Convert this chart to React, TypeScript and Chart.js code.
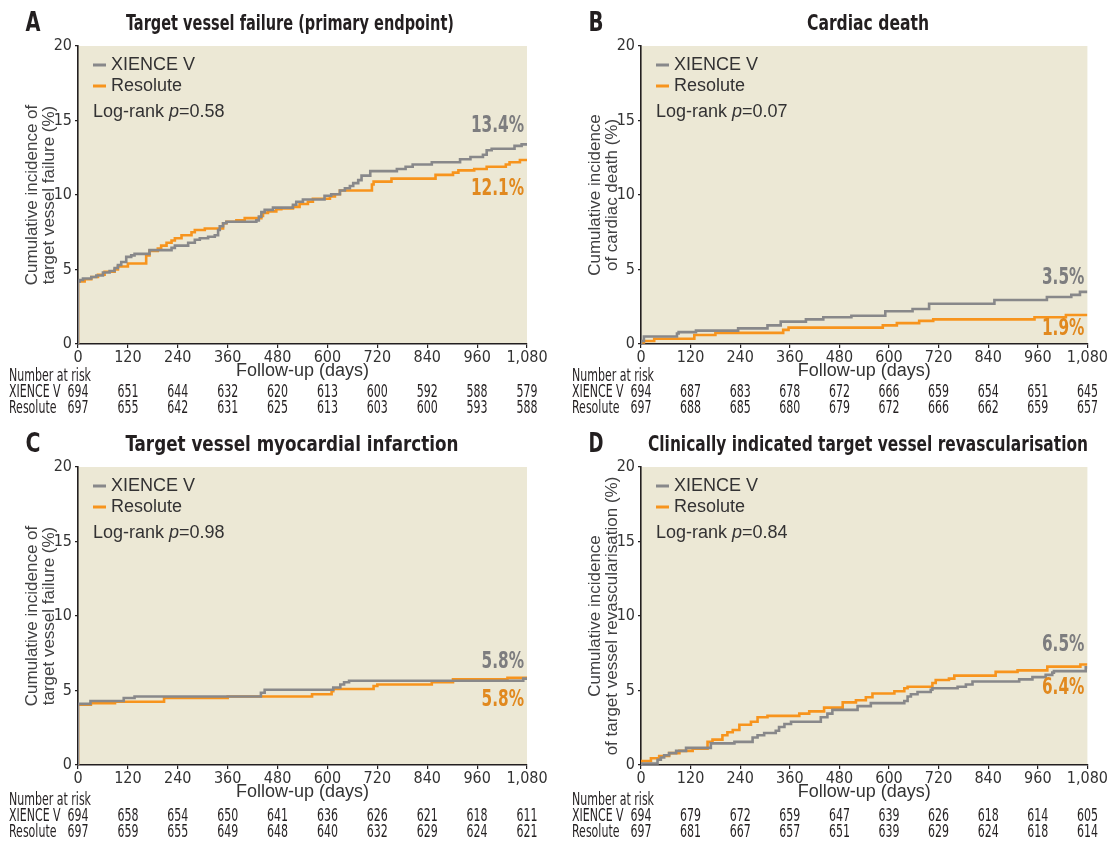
import React, { useEffect, useRef } from "react";
import { Chart, registerables } from "chart.js";

Chart.register(...registerables);

// ---------- shared axis data ----------
const xTicks = [0, 120, 240, 360, 480, 600, 720, 840, 960, 1080];
const xTickLabels = ["0", "120", "240", "360", "480", "600", "720", "840", "960", "1,080"];
const yTicks = [0, 5, 10, 15, 20];
const seriesNames = ["XIENCE V", "Resolute"];

// ---------- Panel A: Target vessel failure ----------
const xienceA_days = [0, 0, 4, 12, 32, 44, 60, 76, 88, 96, 104, 116, 128, 136, 172, 225, 233, 265, 281, 293, 313, 329, 337, 341, 349, 357, 429, 435, 441, 449, 469, 517, 525, 541, 593, 609, 630, 642, 654, 662, 674, 682, 703, 767, 788, 805, 851, 919, 944, 974, 983, 995, 1050, 1067, 1080];
const xienceA_vals = [0, 4.2, 4.3, 4.4, 4.5, 4.6, 4.8, 4.9, 5.1, 5.3, 5.5, 5.85, 5.95, 6.05, 6.3, 6.45, 6.6, 6.8, 7.0, 7.1, 7.2, 7.3, 7.65, 7.9, 8.1, 8.2, 8.3, 8.55, 8.85, 9.0, 9.15, 9.35, 9.55, 9.7, 9.95, 10.05, 10.3, 10.45, 10.6, 10.8, 11.0, 11.3, 11.6, 11.75, 11.9, 12.05, 12.2, 12.4, 12.55, 12.7, 13.0, 13.1, 13.3, 13.4, 13.4];
const resoluteA_days = [0, 0, 16, 32, 48, 64, 88, 96, 120, 164, 172, 192, 200, 213, 225, 233, 249, 273, 281, 305, 349, 357, 381, 401, 441, 445, 457, 477, 489, 517, 533, 553, 565, 606, 618, 630, 707, 711, 754, 860, 902, 915, 953, 983, 1029, 1038, 1063, 1080];
const resoluteA_vals = [0, 4.2, 4.35, 4.5, 4.65, 4.85, 5.0, 5.2, 5.4, 5.95, 6.25, 6.4, 6.6, 6.8, 6.95, 7.1, 7.3, 7.5, 7.65, 7.75, 8.1, 8.2, 8.3, 8.45, 8.6, 8.8, 8.9, 9.05, 9.1, 9.2, 9.4, 9.55, 9.75, 9.9, 10.05, 10.3, 10.7, 10.9, 11.1, 11.35, 11.5, 11.65, 11.75, 11.9, 12.05, 12.2, 12.35, 12.35];
const riskA_xience = [694, 651, 644, 632, 620, 613, 600, 592, 588, 579];
const riskA_resolute = [697, 655, 642, 631, 625, 613, 603, 600, 593, 588];

// ---------- Panel B: Cardiac death ----------
const xienceB_days = [0, 0, 7, 87, 91, 133, 235, 306, 338, 399, 441, 509, 591, 657, 697, 855, 982, 1041, 1062, 1080];
const xienceB_vals = [0, 0.2, 0.5, 0.7, 0.8, 0.9, 1.05, 1.25, 1.5, 1.65, 1.8, 1.9, 2.2, 2.35, 2.7, 2.95, 3.15, 3.3, 3.5, 3.5];
const resoluteB_days = [0, 0, 7, 32, 129, 180, 344, 357, 585, 619, 673, 707, 952, 1028, 1080];
const resoluteB_vals = [0, 0.1, 0.2, 0.35, 0.6, 0.75, 0.95, 1.1, 1.25, 1.4, 1.55, 1.65, 1.8, 1.95, 1.95];
const riskB_xience = [694, 687, 683, 678, 672, 666, 659, 654, 651, 645];
const riskB_resolute = [697, 688, 685, 680, 679, 672, 666, 662, 659, 657];

// ---------- Panel C: Target vessel MI ----------
const xienceC_days = [0, 0, 30, 110, 136, 440, 449, 614, 631, 640, 652, 1071, 1080];
const xienceC_vals = [0, 4.1, 4.3, 4.5, 4.6, 4.85, 5.05, 5.2, 5.4, 5.55, 5.65, 5.8, 5.8];
const resoluteC_days = [0, 0, 31, 89, 207, 360, 563, 610, 614, 711, 720, 851, 902, 1033, 1080];
const resoluteC_vals = [0, 4.05, 4.15, 4.25, 4.5, 4.6, 4.75, 4.95, 5.1, 5.3, 5.4, 5.55, 5.75, 5.85, 5.85];
const riskC_xience = [694, 658, 654, 650, 641, 636, 626, 621, 618, 611];
const riskC_resolute = [697, 659, 655, 649, 648, 640, 632, 629, 624, 621];

// ---------- Panel D: CI-TVR ----------
const xienceD_days = [0, 0, 40, 48, 56, 68, 85, 109, 169, 226, 270, 282, 298, 326, 334, 347, 363, 435, 451, 463, 524, 556, 637, 645, 653, 669, 701, 705, 766, 786, 802, 915, 947, 979, 995, 999, 1076, 1080];
const xienceD_vals = [0, 0.1, 0.35, 0.5, 0.65, 0.8, 0.95, 1.15, 1.45, 1.55, 1.85, 2.0, 2.15, 2.3, 2.55, 2.75, 2.9, 3.2, 3.45, 3.7, 3.95, 4.15, 4.3, 4.6, 4.75, 4.9, 5.05, 5.15, 5.25, 5.4, 5.6, 5.75, 5.9, 6.05, 6.2, 6.3, 6.55, 6.55];
const resoluteD_days = [0, 0, 24, 44, 68, 93, 125, 161, 173, 197, 209, 222, 238, 266, 282, 306, 383, 407, 443, 488, 520, 544, 560, 613, 637, 645, 705, 713, 745, 758, 858, 911, 983, 1063, 1080];
const resoluteD_vals = [0, 0.27, 0.45, 0.6, 0.8, 0.95, 1.1, 1.55, 1.7, 2.0, 2.2, 2.35, 2.7, 2.9, 3.2, 3.3, 3.45, 3.6, 3.85, 4.2, 4.35, 4.55, 4.8, 4.95, 5.15, 5.25, 5.5, 5.7, 5.8, 6.0, 6.25, 6.35, 6.6, 6.75, 6.75];
const riskD_xience = [694, 679, 672, 659, 647, 639, 626, 618, 614, 605];
const riskD_resolute = [697, 681, 667, 657, 651, 639, 629, 624, 618, 614];

// ---------- styling ----------
const GREY = "#88888A";
const ORANGE = "#F7941D";
const GREY_LABEL = "#7D7D7F";
const ORANGE_LABEL = "#E1891F";
const BG = "#ECE8D5";
const INK = "#231F20";
const NARROW = '"Liberation Sans Narrow", "DejaVu Sans Condensed", "Liberation Sans", sans-serif';
const SANS = '"Liberation Sans", Arial, sans-serif';
const SQUEEZE = 0.74;

type PanelDef = {
  letter: string;
  title: string;
  titleX: number;
  titleW: number;
  yTitle: string[];
  xDays: number[];
  xVals: number[];
  rDays: number[];
  rVals: number[];
  riskX: number[];
  riskR: number[];
  pValue: string;
  greyLabel: string;
  orangeLabel: string;
  greyLabelY: number;
  orangeLabelY: number;
  riskDy: number;
  left: number;
  top: number;
  width: number;
  height: number;
  plotRight: number;
};

const panels: PanelDef[] = [
  {
    letter: "A", title: "Target vessel failure (primary endpoint)", titleX: 290, titleW: 328,
    yTitle: ["Cumulative incidence of", "target vessel failure (%)"],
    xDays: xienceA_days, xVals: xienceA_vals, rDays: resoluteA_days, rVals: resoluteA_vals,
    riskX: riskA_xience, riskR: riskA_resolute, pValue: "0.58",
    greyLabel: "13.4%", orangeLabel: "12.1%", greyLabelY: 126, orangeLabelY: 189, riskDy: 0,
    left: 0, top: 0, width: 555, height: 421, plotRight: 527,
  },
  {
    letter: "B", title: "Cardiac death", titleX: 305, titleW: 122,
    yTitle: ["Cumulative incidence", "of cardiac death (%)"],
    xDays: xienceB_days, xVals: xienceB_vals, rDays: resoluteB_days, rVals: resoluteB_vals,
    riskX: riskB_xience, riskR: riskB_resolute, pValue: "0.07",
    greyLabel: "3.5%", orangeLabel: "1.9%", greyLabelY: 278, orangeLabelY: 329, riskDy: 0,
    left: 563, top: 0, width: 545, height: 421, plotRight: 525,
  },
  {
    letter: "C", title: "Target vessel myocardial infarction", titleX: 292, titleW: 333,
    yTitle: ["Cumulative incidence of", "target vessel failure (%)"],
    xDays: xienceC_days, xVals: xienceC_vals, rDays: resoluteC_days, rVals: resoluteC_vals,
    riskX: riskC_xience, riskR: riskC_resolute, pValue: "0.98",
    greyLabel: "5.8%", orangeLabel: "5.8%", greyLabelY: 241, orangeLabelY: 279, riskDy: 3,
    left: 0, top: 421, width: 555, height: 424, plotRight: 527,
  },
  {
    letter: "D", title: "Clinically indicated target vessel revascularisation", titleX: 305, titleW: 440,
    yTitle: ["Cumulative incidence", "of target vessel revascularisation (%)"],
    xDays: xienceD_days, xVals: xienceD_vals, rDays: resoluteD_days, rVals: resoluteD_vals,
    riskX: riskD_xience, riskR: riskD_resolute, pValue: "0.84",
    greyLabel: "6.5%", orangeLabel: "6.4%", greyLabelY: 224, orangeLabelY: 267, riskDy: 3,
    left: 563, top: 421, width: 545, height: 424, plotRight: 525,
  },
];

const toPoints = (days: number[], vals: number[]) => days.map((d, i) => ({ x: d, y: vals[i] }));

const PLOT_TOP = 46;
const PLOT_BOTTOM = 344;
const X_AXIS_H = 40;

function KMPanel({ p }: { p: PanelDef }) {
  const ref = useRef<HTMLCanvasElement>(null);

  useEffect(() => {
    const canvas = ref.current;
    if (!canvas) return;

    const bgPlugin = {
      id: "bg" + p.letter,
      beforeDraw(chart: any) {
        const { ctx, chartArea: ca } = chart;
        ctx.save();
        ctx.fillStyle = BG;
        ctx.fillRect(ca.left, ca.top, ca.right - ca.left, ca.bottom - ca.top);
        ctx.restore();
      },
    };

    const squeezed = (ctx: CanvasRenderingContext2D, text: string, x: number, y: number, f = SQUEEZE) => {
      const w = ctx.measureText(text).width * f;
      ctx.fillText(text, x, y, w);
    };

    const overlayPlugin = {
      id: "overlay" + p.letter,
      afterDraw(chart: any) {
        const { ctx, chartArea: ca } = chart;
        const xs = chart.scales.x;
        ctx.save();
        ctx.fillStyle = INK;
        ctx.textBaseline = "middle";

        // panel letter
        ctx.textAlign = "center";
        ctx.font = `bold 26px ${NARROW}`;
        ctx.fillText(p.letter, 33, 24, 15);

        // title
        ctx.font = `bold 22px ${NARROW}`;
        ctx.fillText(p.title, p.titleX, 24, p.titleW);

        // legend
        const lx = ca.left + 15;
        const legendRows = [
          { name: seriesNames[0], color: GREY, y: 65 },
          { name: seriesNames[1], color: ORANGE, y: 86 },
        ];
        ctx.textAlign = "left";
        ctx.font = `18px ${SANS}`;
        legendRows.forEach((r) => {
          ctx.strokeStyle = r.color;
          ctx.lineWidth = 3;
          ctx.beginPath();
          ctx.moveTo(lx, r.y);
          ctx.lineTo(lx + 13, r.y);
          ctx.stroke();
          ctx.fillStyle = "#333233";
          ctx.fillText(r.name, lx + 18, r.y);
        });

        // log-rank p
        let px = lx;
        const py = 112;
        ctx.font = `18px ${SANS}`;
        ctx.fillText("Log-rank ", px, py);
        px += ctx.measureText("Log-rank ").width;
        ctx.font = `italic 18px ${SANS}`;
        ctx.fillText("p", px, py);
        px += ctx.measureText("p").width;
        ctx.font = `18px ${SANS}`;
        ctx.fillText("=" + p.pValue, px, py);

        // end labels
        ctx.textAlign = "right";
        ctx.font = `bold 23px ${NARROW}`;
        ctx.fillStyle = GREY_LABEL;
        squeezed(ctx, p.greyLabel, ca.right - 3, p.greyLabelY);
        ctx.fillStyle = ORANGE_LABEL;
        squeezed(ctx, p.orangeLabel, ca.right - 3, p.orangeLabelY);

        // number at risk table
        const r0 = 377 + p.riskDy;
        const r1 = 393 + p.riskDy;
        const r2 = 409 + p.riskDy;
        ctx.fillStyle = INK;
        ctx.textAlign = "left";
        ctx.font = `17px ${NARROW}`;
        squeezed(ctx, "Number at risk", 9, r0, 0.72);
        squeezed(ctx, seriesNames[0], 9, r1, 0.72);
        squeezed(ctx, seriesNames[1], 9, r2, 0.72);
        ctx.textAlign = "center";
        xTicks.forEach((t, i) => {
          const x = xs.getPixelForValue(t);
          squeezed(ctx, String(p.riskX[i]), x, r1, 0.72);
          squeezed(ctx, String(p.riskR[i]), x, r2, 0.72);
        });
        ctx.restore();
      },
    };

    const chart = new Chart(canvas, {
      type: "line",
      data: {
        datasets: [
          {
            label: seriesNames[0],
            data: toPoints(p.xDays, p.xVals),
            borderColor: GREY,
            backgroundColor: GREY,
            borderWidth: 2.6,
            stepped: true,
            pointRadius: 0,
            fill: false,
            order: 0,
          },
          {
            label: seriesNames[1],
            data: toPoints(p.rDays, p.rVals),
            borderColor: ORANGE,
            backgroundColor: ORANGE,
            borderWidth: 2.6,
            stepped: true,
            pointRadius: 0,
            fill: false,
            order: 1,
          },
        ],
      },
      options: {
        responsive: false,
        animation: false,
        events: [],
        layout: {
          padding: {
            left: 0,
            top: PLOT_TOP,
            right: p.width - p.plotRight,
            bottom: p.height - PLOT_BOTTOM - X_AXIS_H,
          },
        },
        plugins: {
          legend: { display: false },
          title: { display: false },
          tooltip: { enabled: false },
        },
        scales: {
          x: {
            type: "linear",
            min: 0,
            max: 1080,
            afterBuildTicks: (s: any) => {
              s.ticks = xTicks.map((v) => ({ value: v }));
            },
            afterFit: (s: any) => {
              s.height = X_AXIS_H;
            },
            ticks: {
              autoSkip: false,
              maxRotation: 0,
              padding: 0,
              color: "#333",
              font: { family: NARROW, size: 16 },
              callback: (_v: any, i: number) => xTickLabels[i],
            },
            grid: {
              display: true,
              drawOnChartArea: false,
              drawTicks: true,
              tickLength: 4,
              color: INK,
              lineWidth: 1.2,
            },
            border: { display: true, color: INK, width: 1.6 },
            title: {
              display: true,
              text: "Follow-up (days)",
              color: "#333",
              font: { family: SANS, size: 18 },
              padding: { top: 0, bottom: 2 },
            },
          },
          y: {
            type: "linear",
            min: 0,
            max: 20,
            afterBuildTicks: (s: any) => {
              s.ticks = yTicks.map((v) => ({ value: v }));
            },
            afterFit: (s: any) => {
              s.width = 78;
            },
            ticks: {
              padding: 3,
              color: "#333",
              font: { family: NARROW, size: 16 },
              callback: (v: any) => String(v),
            },
            grid: {
              display: true,
              drawOnChartArea: false,
              drawTicks: true,
              tickLength: 3,
              color: INK,
              lineWidth: 1.2,
            },
            border: { display: true, color: INK, width: 1.6 },
            title: {
              display: true,
              text: p.yTitle,
              color: "#404041",
              font: { family: SANS, size: 17, lineHeight: 1.0 },
              padding: { top: 23.5, bottom: 0 },
            },
          },
        },
      },
      plugins: [bgPlugin, overlayPlugin],
    } as any);

    return () => chart.destroy();
  }, [p]);

  return (
    <canvas
      ref={ref}
      width={p.width}
      height={p.height}
      style={{ position: "absolute", left: p.left, top: p.top, width: p.width, height: p.height }}
    />
  );
}

export default function App() {
  return (
    <div style={{ position: "absolute", left: 0, top: 0, width: 1108, height: 845, background: "#ffffff", overflow: "hidden" }}>
      {panels.map((p) => (
        <KMPanel key={p.letter} p={p} />
      ))}
    </div>
  );
}
